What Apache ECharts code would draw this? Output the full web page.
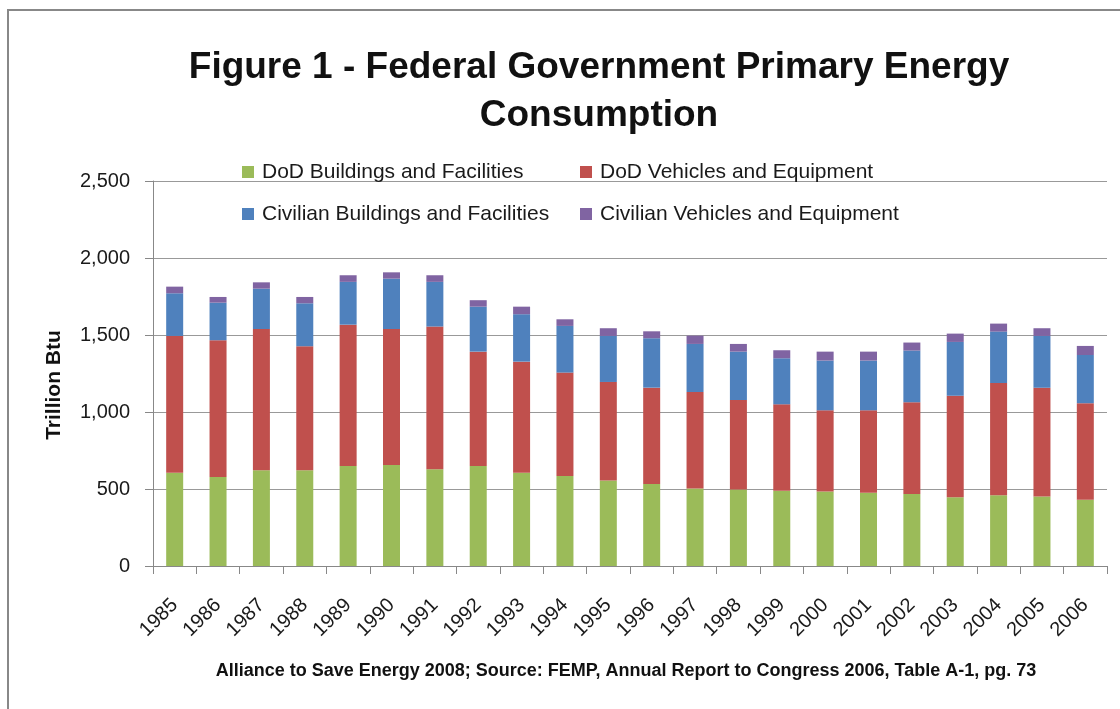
<!DOCTYPE html>
<html>
<head>
<meta charset="utf-8">
<script src="https://cdn.jsdelivr.net/npm/echarts@6/dist/echarts.min.js"></script>
<style>
  html, body { margin: 0; padding: 0; background: #fff; }
  #chart { width: 1120px; height: 709px; }
</style>
</head>
<body>
<div id="chart"></div>
<script>
// values (trillion Btu)
var years = ['1985','1986','1987','1988','1989','1990','1991','1992','1993','1994','1995',
             '1996','1997','1998','1999','2000','2001','2002','2003','2004','2005','2006'];
var dodBuildings = [606,578,621,621,650,656,628,650,606,585,556,533,504,496,489,483,476,468,446,459,452,431];
var dodVehicles  = [888,888,918,806,917,883,927,742,721,671,639,625,626,582,561,528,535,595,660,730,706,626];
var civBuildings = [277,244,262,279,278,327,290,292,308,303,299,321,312,314,299,323,323,336,349,333,336,313];
var civVehicles  = [43,37,41,41,43,41,43,42,49,43,50,45,54,50,52,58,58,52,54,52,50,59];
var yTicks = [0, 500, 1000, 1500, 2000, 2500];

var seriesNames = ['DoD Buildings and Facilities', 'DoD Vehicles and Equipment',
                   'Civilian Buildings and Facilities', 'Civilian Vehicles and Equipment'];
var seriesData = [dodBuildings, dodVehicles, civBuildings, civVehicles];
var colors = ['#9BBB59', '#C0504D', '#4F81BD', '#8064A2'];

var fontMain = "'Liberation Sans', Arial, sans-serif";

var chart = echarts.init(document.getElementById('chart'));

var series = [];
for (var i = 0; i < seriesData.length; i++) {
    series.push({
        name: seriesNames[i],
        type: 'bar',
        stack: 'total',
        barWidth: 17,
        data: seriesData[i],
        itemStyle: { color: colors[i] }
    });
}

// two vertical legends so the items line up in columns like the original
function legendStyle(names, left) {
    return {
        data: names,
        orient: 'vertical',
        left: left,
        top: 161,
        padding: 0,
        itemWidth: 12,
        itemHeight: 12,
        itemGap: 20,
        icon: 'rect',
        selectedMode: false,
        textStyle: { fontFamily: fontMain, fontSize: 21, color: '#1a1a1a', lineHeight: 22, padding: [0, 0, 0, 3] }
    };
}

chart.setOption({
    backgroundColor: '#fff',
    animation: false,
    color: colors,
    title: [{
        text: 'Figure 1 - Federal Government Primary Energy\nConsumption',
        left: 594,
        top: 39,
        textAlign: 'center',
        textStyle: { fontFamily: fontMain, fontWeight: 'bold', fontSize: 37, color: '#111', lineHeight: 48 }
    }, {
        text: 'Alliance to Save Energy 2008; Source: FEMP, Annual Report to Congress 2006, Table A-1, pg. 73',
        left: 621,
        top: 657,
        textAlign: 'center',
        textStyle: { fontFamily: fontMain, fontWeight: 'bold', fontSize: 18, color: '#111' }
    }],
    legend: [
        legendStyle([seriesNames[0], seriesNames[2]], 242),
        legendStyle([seriesNames[1], seriesNames[3]], 580)
    ],
    grid: { left: 153, right: 13, top: 181, bottom: 143 },
    xAxis: {
        type: 'category',
        data: years,
        boundaryGap: true,
        axisLine: { lineStyle: { color: '#888', width: 1 } },
        axisTick: { show: true, length: 8, lineStyle: { color: '#888' } },
        axisLabel: { rotate: 45, fontFamily: fontMain, fontSize: 20, color: '#1a1a1a', margin: 36 }
    },
    yAxis: {
        type: 'value',
        min: yTicks[0],
        max: yTicks[yTicks.length - 1],
        interval: 500,
        axisLine: { show: true, lineStyle: { color: '#888', width: 1 } },
        axisTick: { show: true, length: 8, lineStyle: { color: '#888' } },
        axisLabel: {
            fontFamily: fontMain, fontSize: 20, color: '#1a1a1a', margin: 23,
            formatter: function (v) { return echarts.format.addCommas(v); }
        },
        splitLine: { lineStyle: { color: '#999', width: 1 } }
    },
    graphic: [{
        type: 'rect',
        shape: { x: 8, y: 10, width: 1200, height: 800 },
        style: { fill: 'none', stroke: '#888', lineWidth: 2 },
        silent: true
    }, {
        type: 'text',
        x: 54,
        y: 385,
        rotation: Math.PI / 2,
        style: {
            text: 'Trillion Btu',
            font: "bold 21px 'Liberation Sans', Arial, sans-serif",
            fill: '#111',
            align: 'center',
            verticalAlign: 'middle'
        },
        silent: true
    }],
    series: series
});
</script>
</body>
</html>
